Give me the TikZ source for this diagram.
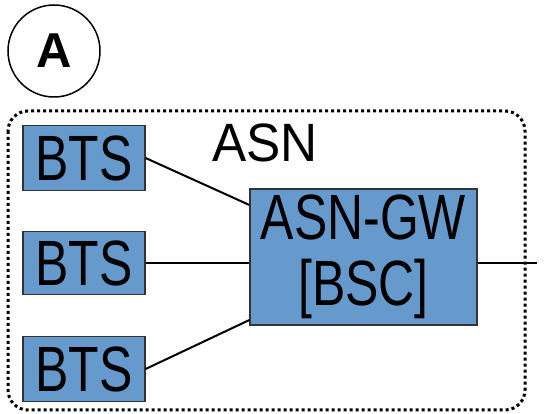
\documentclass[tikz,border=0pt]{standalone}
\usepackage{fontspec}
\setmainfont{Liberation Sans}
\newfontfamily\narrowfont[FakeStretch=0.78]{Liberation Sans}
\newfontfamily\asnfont[FakeStretch=0.95]{Liberation Sans}
\definecolor{boxblue}{HTML}{6699CC}
\definecolor{boxedge}{HTML}{333333}
\begin{document}
\begin{tikzpicture}[x=1pt,y=-1pt,
  bluebox/.style={draw=boxedge, line width=1.2pt, fill=boxblue, inner sep=0pt,
    font=\narrowfont\fontsize{64}{66}\selectfont, align=center},
  link/.style={line width=2pt, black}]
\useasboundingbox (0,0) rectangle (550,414);
\node[circle, draw, line width=1.5pt, minimum size=92pt, inner sep=0pt,
  font=\bfseries\fontsize{49}{49}\selectfont] (a) at (54,51) {A};
\draw[line width=3pt, dash pattern=on 3pt off 3pt, rounded corners=20pt]
  (8,111) rectangle (525,410);
\node[font=\asnfont\fontsize{54}{54}\selectfont, inner sep=0pt] (asn) at (265,143) {ASN};
\node[bluebox, minimum width=122pt, minimum height=65pt] (b1) at (84,158) {BTS};
\node[bluebox, minimum width=122pt, minimum height=63pt] (b2) at (84,263) {BTS};
\node[bluebox, minimum width=122pt, minimum height=65pt] (b3) at (84,369) {BTS};
\node[bluebox, minimum width=227pt, minimum height=136pt] (gw) at (363.5,257) {ASN-GW\\{}[BSC]};
\coordinate (g1) at ([yshift=52pt]gw.west);
\coordinate (g3) at ([yshift=-63pt]gw.west);
\coordinate (g2) at (gw.west |- b2.east);
\coordinate (out) at (537,263);
\draw[link] (b1.east) -- (g1);
\draw[link] (b2.east) -- (g2);
\draw[link] (b3.east) -- (g3);
\draw[link] (gw.east |- out) -- (out);
\end{tikzpicture}
\end{document}
